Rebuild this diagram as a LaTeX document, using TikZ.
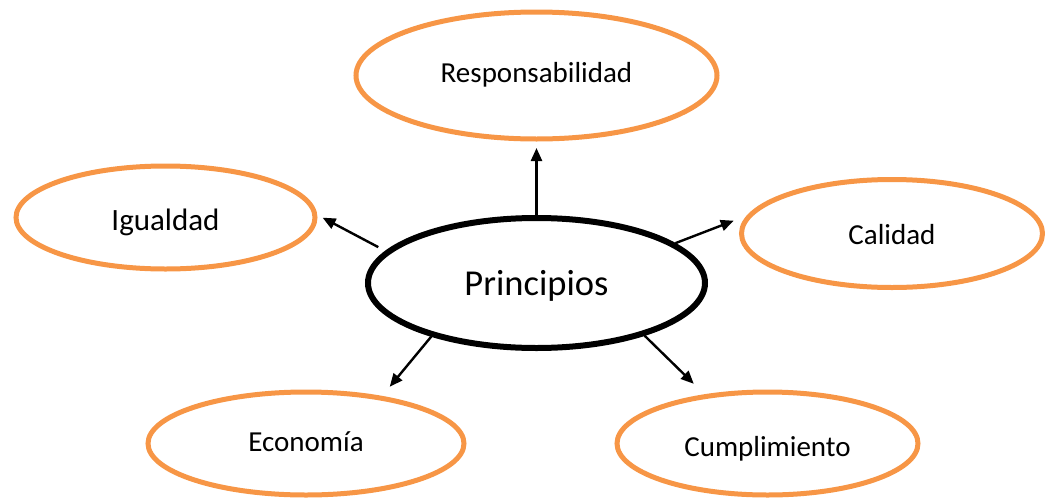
\documentclass[tikz,border=0pt]{standalone}
\usepackage{fontspec}
\setmainfont{Carlito}
\usetikzlibrary{shapes.geometric,arrows.meta}
\definecolor{ringorange}{HTML}{F79646}
\begin{document}
\begin{tikzpicture}[x=1pt,y=-1pt,
  oval/.style={ellipse, draw=ringorange, line width=5pt, fill=white,
    inner sep=0pt, text depth=0pt, font=\fontsize{29}{34}\selectfont},
  hub/.style={ellipse, draw=black, line width=6pt, fill=white,
    inner sep=0pt, text depth=0pt, font=\fontsize{36.5}{42}\selectfont},
  arr/.style={line width=2.4pt, -{Triangle[length=13pt,width=11pt]}}
]
\useasboundingbox (0,0) rectangle (1045,501);

% centre idea
\node[hub, minimum width=337, minimum height=130, text height=25pt]
  (p) at (536.5,283) {Principios};

% surrounding ideas
\node[oval, minimum width=361, minimum height=127, text height=14pt]
  (resp) at (536.5,75.5) {Responsabilidad};
\node[oval, minimum width=299, minimum height=103, text height=25pt,
  font=\fontsize{31}{36}\selectfont]
  (ig) at (165.5,217.5) {Igualdad};
\node[oval, minimum width=301, minimum height=108, text height=22pt]
  (cal) at (892,233.5) {Calidad};
\node[oval, minimum width=316, minimum height=103, text height=16pt]
  (eco) at (306,443.5) {Economía};
\node[oval, minimum width=301, minimum height=103, text height=26pt]
  (cum) at (767.5,443.5) {Cumplimiento};

% connectors from the centre outwards
\draw[arr, shorten >=6.5pt] (p.north) -- (resp.south);
\draw[arr, shorten <=8pt, shorten >=6pt] (p.168) -- (ig.1);
\draw[arr, shorten >=14pt] (p.16) -- (cal.173.5);
\draw[arr, shorten >=12pt] (p.207) -- (eco.32);
\draw[arr, shorten >=15pt] (p.334) -- (cum.142);
\end{tikzpicture}
\end{document}
